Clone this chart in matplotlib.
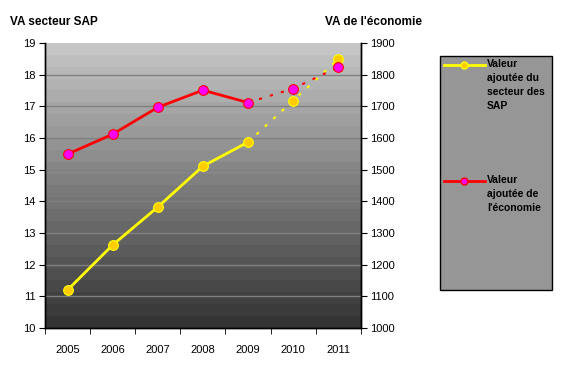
import numpy as np
import matplotlib
matplotlib.use("Agg")
from matplotlib import pyplot as plt
from matplotlib.patches import Rectangle
from matplotlib.lines import Line2D

plt.rcParams['font.family'] = ['Liberation Sans', 'DejaVu Sans']

years = ['2005', '2006', '2007', '2008', '2009', '2010', '2011']
va_sap = [11.2, 12.62, 13.82, 15.11, 15.87, 17.18, 18.49]
va_eco = [1549, 1612, 1697, 1751, 1712, 1756, 1824]
n_real = 5  # observed years, the rest are projections (dotted)

fig = plt.figure(figsize=(5.62, 3.71), dpi=100)
ax = fig.add_axes([0.080, 0.116, 0.562, 0.768])
ax2 = ax.twinx()

x = np.arange(len(years))

# banded grey gradient background
bands = np.linspace(0.77, 0.21, 24).reshape(-1, 1)
ax.imshow(bands, cmap='gray', vmin=0, vmax=1, aspect='auto',
          extent=[-0.5, 6.5, 10, 19], zorder=0, interpolation='nearest')

ax.set_xlim(-0.5, 6.5)
ax.set_ylim(10, 19)
ax2.set_ylim(1000, 1900)
ax.set_yticks(range(10, 20))
ax2.set_yticks(range(1000, 2000, 100))
for v in range(11, 19):
    ax.axhline(v, color='#808080', lw=1, zorder=1)

ax.set_xticks(x)
ax.set_xticklabels(years)
ax.set_xticks(np.arange(-0.5, 7, 1), minor=True)
ax.tick_params(axis='x', which='major', length=0, pad=12, labelsize=8)
ax.tick_params(axis='x', which='minor', length=4, direction='out')
ax.tick_params(axis='y', length=4, labelsize=8, pad=3)
ax2.tick_params(axis='y', length=4, labelsize=8, pad=3)
for a in (ax, ax2):
    for s in a.spines.values():
        s.set_linewidth(1)
ax.spines['top'].set_visible(False)
ax2.spines['top'].set_visible(False)

dots = (0, (1.5, 4))

# yellow series on left axis
ax.plot(x[:n_real], va_sap[:n_real], color='#FFFF00', lw=2, zorder=3)
ax.plot(x[n_real - 1:], va_sap[n_real - 1:], color='#FFFF00', lw=1.5, ls=dots, zorder=3)
ax.plot(x, va_sap, ls='none', marker='o', ms=7, mfc='#FFCC00', mec='#FFFF00', mew=0.8, zorder=4)

# red series on right axis
ax2.plot(x[:n_real], va_eco[:n_real], color='#FF0000', lw=2, zorder=3)
ax2.plot(x[n_real - 1:], va_eco[n_real - 1:], color='#FF0000', lw=1.5, ls=dots, zorder=3)
ax2.plot(x, va_eco, ls='none', marker='o', ms=7, mfc='#FF00FF', mec='#FF0000', mew=0.8, zorder=4)

fig.text(10 / 562, 1 - 22 / 371, 'VA secteur SAP', fontsize=8.5, fontweight='bold', va='center')
fig.text(325 / 562, 1 - 22 / 371, "VA de l'économie", fontsize=8.5, fontweight='bold', va='center')

# legend box
W, H = 562, 371
fig.add_artist(Rectangle((440 / W, 1 - 290 / H), 112 / W, 234 / H, transform=fig.transFigure,
                         facecolor='#969696', edgecolor='black', lw=1))
fig.add_artist(Line2D([444 / W, 485 / W], [1 - 65 / H] * 2, color='#FFFF00', lw=2))
fig.add_artist(Line2D([464 / W], [1 - 65 / H], marker='o', ms=5, mfc='#FFCC00', mec='#FFFF00'))
fig.add_artist(Line2D([444 / W, 485 / W], [1 - 181 / H] * 2, color='#FF0000', lw=2))
fig.add_artist(Line2D([464 / W], [1 - 181 / H], marker='o', ms=5, mfc='#FF00FF', mec='#FF0000'))
fig.text(487 / W, 1 - 59 / H, 'Valeur\najoutée du\nsecteur des\nSAP', fontsize=7.5,
         fontweight='bold', va='top', linespacing=1.5)
fig.text(487 / W, 1 - 175 / H, "Valeur\najoutée de\nl'économie", fontsize=7.5,
         fontweight='bold', va='top', linespacing=1.5)

fig.savefig('out.png', dpi=100)
